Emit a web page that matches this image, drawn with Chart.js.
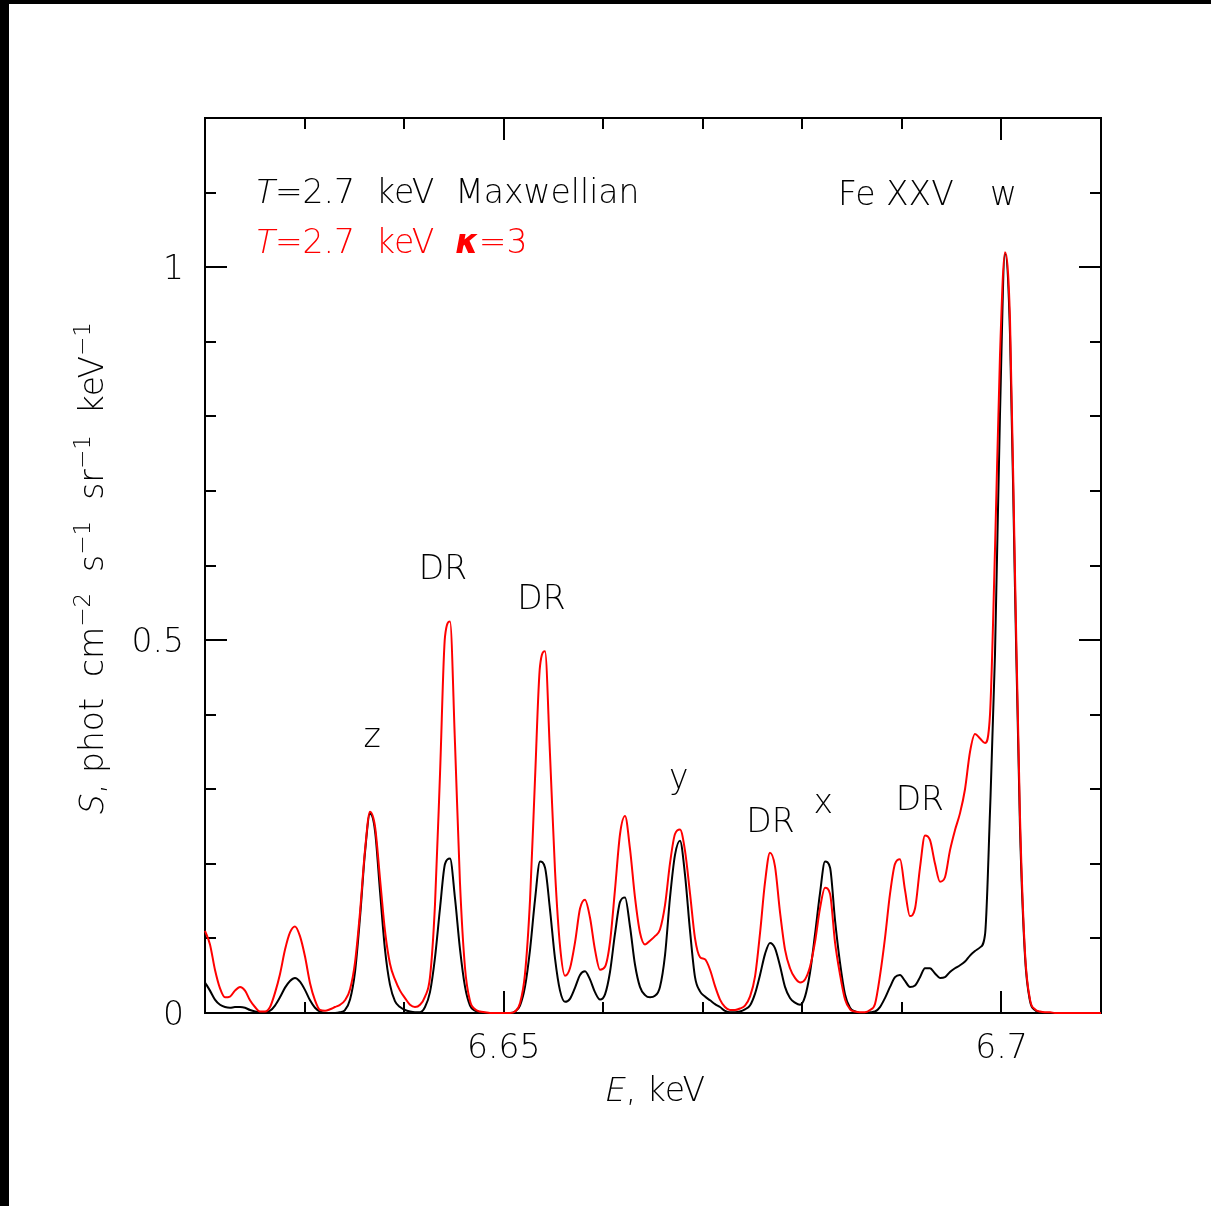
<!DOCTYPE html>
<html>
<head>
<meta charset="utf-8">
<script src="https://cdn.jsdelivr.net/npm/chart.js@4.4.1/dist/chart.umd.min.js"></script>
<style>
  html, body { margin: 0; padding: 0; background: #fff; }
  canvas { display: block; }
</style>
</head>
<body>
<canvas id="spec" width="1211" height="1206"></canvas>
<script>
// Fe XXV K-alpha complex, T = 2.7 keV: Maxwellian vs kappa = 3

const energy = [
  6.62000, 6.62050, 6.62100, 6.62151, 6.62201, 6.62251, 6.62301, 6.62352, 6.62402, 6.62452,
  6.62502, 6.62552, 6.62603, 6.62653, 6.62703, 6.62753, 6.62804, 6.62854, 6.62904, 6.62954,
  6.63004, 6.63055, 6.63105, 6.63155, 6.63206, 6.63256, 6.63306, 6.63356, 6.63406, 6.63457,
  6.63507, 6.63557, 6.63607, 6.63657, 6.63708, 6.63758, 6.63808, 6.63858, 6.63908, 6.63959,
  6.64009, 6.64059, 6.64109, 6.64160, 6.64210, 6.64260, 6.64310, 6.64361, 6.64411, 6.64461,
  6.64511, 6.64561, 6.64612, 6.64662, 6.64712, 6.64762, 6.64812, 6.64863, 6.64913, 6.64963,
  6.65013, 6.65064, 6.65114, 6.65164, 6.65214, 6.65265, 6.65315, 6.65365, 6.65415, 6.65465,
  6.65516, 6.65566, 6.65616, 6.65666, 6.65717, 6.65767, 6.65817, 6.65867, 6.65917, 6.65968,
  6.66018, 6.66068, 6.66118, 6.66169, 6.66219, 6.66269, 6.66319, 6.66369, 6.66420, 6.66470,
  6.66520, 6.66570, 6.66621, 6.66671, 6.66721, 6.66771, 6.66821, 6.66872, 6.66922, 6.66972,
  6.67022, 6.67073, 6.67123, 6.67173, 6.67223, 6.67273, 6.67324, 6.67374, 6.67424, 6.67474,
  6.67525, 6.67575, 6.67625, 6.67675, 6.67725, 6.67776, 6.67826, 6.67876, 6.67926, 6.67977,
  6.68027, 6.68077, 6.68127, 6.68177, 6.68228, 6.68278, 6.68328, 6.68378, 6.68429, 6.68479,
  6.68529, 6.68579, 6.68629, 6.68680, 6.68730, 6.68780, 6.68830, 6.68881, 6.68931, 6.68981,
  6.69031, 6.69081, 6.69132, 6.69182, 6.69232, 6.69282, 6.69333, 6.69383, 6.69433, 6.69483,
  6.69533, 6.69584, 6.69634, 6.69684, 6.69734, 6.69785, 6.69835, 6.69885, 6.69935, 6.69985,
  6.70036, 6.70086, 6.70136, 6.70186, 6.70237, 6.70287, 6.70337, 6.70387, 6.70437, 6.70488,
  6.70538, 6.70588, 6.70638, 6.70689, 6.70739, 6.70789, 6.70839, 6.70889, 6.70940, 6.70990,
  6.71000
];

const maxwellian = [
  0.041, 0.030, 0.018, 0.011, 0.008, 0.007, 0.008, 0.008, 0.007, 0.004,
  0.002, 0.001, 0.001, 0.003, 0.010, 0.021, 0.034, 0.043, 0.047, 0.042,
  0.031, 0.017, 0.007, 0.002, 0.000, 0.000, 0.000, 0.001, 0.004, 0.018,
  0.055, 0.128, 0.215, 0.267, 0.244, 0.163, 0.085, 0.038, 0.016, 0.008,
  0.004, 0.002, 0.001, 0.001, 0.008, 0.028, 0.074, 0.141, 0.200, 0.207,
  0.154, 0.086, 0.035, 0.010, 0.003, 0.001, 0.000, 0.000, 0.000, 0.000,
  0.000, 0.000, 0.002, 0.010, 0.035, 0.085, 0.152, 0.203, 0.195, 0.139,
  0.073, 0.030, 0.015, 0.019, 0.034, 0.051, 0.056, 0.045, 0.028, 0.018,
  0.025, 0.055, 0.106, 0.149, 0.155, 0.116, 0.065, 0.035, 0.024, 0.021,
  0.023, 0.035, 0.078, 0.155, 0.212, 0.231, 0.186, 0.110, 0.048, 0.029,
  0.022, 0.017, 0.012, 0.008, 0.003, 0.001, 0.001, 0.002, 0.005, 0.010,
  0.026, 0.051, 0.079, 0.094, 0.087, 0.063, 0.035, 0.020, 0.014, 0.011,
  0.022, 0.054, 0.105, 0.160, 0.203, 0.195, 0.125, 0.068, 0.025, 0.007,
  0.002, 0.000, 0.000, 0.001, 0.002, 0.008, 0.020, 0.035, 0.048, 0.051,
  0.043, 0.035, 0.037, 0.048, 0.060, 0.060, 0.053, 0.047, 0.048, 0.055,
  0.060, 0.064, 0.069, 0.077, 0.083, 0.088, 0.105, 0.270, 0.480, 0.800,
  1.018, 0.910, 0.570, 0.250, 0.075, 0.016, 0.004, 0.001, 0.000, 0.000,
  0.000, 0.000, 0.000, 0.000, 0.000, 0.000, 0.000, 0.000, 0.000, 0.000,
  0.000
];

const kappa3 = [
  0.110, 0.092, 0.058, 0.033, 0.021, 0.022, 0.030, 0.035, 0.030, 0.017,
  0.008, 0.002, 0.002, 0.008, 0.027, 0.052, 0.085, 0.108, 0.116, 0.103,
  0.076, 0.040, 0.017, 0.004, 0.003, 0.005, 0.008, 0.011, 0.017, 0.032,
  0.068, 0.135, 0.218, 0.270, 0.250, 0.180, 0.110, 0.066, 0.045, 0.030,
  0.020, 0.011, 0.008, 0.011, 0.022, 0.048, 0.145, 0.322, 0.505, 0.525,
  0.362, 0.175, 0.060, 0.016, 0.005, 0.002, 0.001, 0.000, 0.000, 0.000,
  0.000, 0.000, 0.002, 0.013, 0.052, 0.152, 0.314, 0.465, 0.485, 0.348,
  0.190, 0.090, 0.050, 0.060, 0.095, 0.140, 0.152, 0.128, 0.085, 0.058,
  0.062, 0.095, 0.165, 0.240, 0.264, 0.220, 0.155, 0.108, 0.092, 0.097,
  0.103, 0.112, 0.145, 0.201, 0.240, 0.246, 0.218, 0.160, 0.100, 0.075,
  0.072, 0.058, 0.036, 0.018, 0.008, 0.004, 0.004, 0.006, 0.010, 0.022,
  0.049, 0.107, 0.175, 0.215, 0.197, 0.135, 0.085, 0.060, 0.047, 0.041,
  0.045, 0.062, 0.095, 0.140, 0.168, 0.160, 0.095, 0.052, 0.018, 0.005,
  0.002, 0.001, 0.001, 0.004, 0.012, 0.050, 0.100, 0.160, 0.200, 0.206,
  0.165, 0.130, 0.140, 0.195, 0.238, 0.232, 0.200, 0.176, 0.182, 0.218,
  0.245, 0.268, 0.300, 0.350, 0.374, 0.368, 0.362, 0.400, 0.620, 0.880,
  1.020, 0.930, 0.590, 0.265, 0.080, 0.018, 0.005, 0.002, 0.001, 0.001,
  0.000, 0.000, 0.000, 0.000, 0.000, 0.000, 0.000, 0.000, 0.000, 0.000,
  0.000
];

const xMajorTicks = [6.65, 6.7];
const xTickLabels = ['6.65', '6.7'];
const xMinorTicks = [6.63, 6.64, 6.66, 6.67, 6.68, 6.69];
const yMajorTicks = [0, 0.5, 1];
const yTickLabels = ['0', '0.5', '1'];
const yMinorTicks = [0.1, 0.2, 0.3, 0.4, 0.6, 0.7, 0.8, 0.9, 1.1];

// line identifications, anchored in data units (E, S)
const lineNames = ['z', 'DR', 'DR', 'y', 'DR', 'x', 'DR', 'Fe XXV', 'w'];
const lineNameE = [6.6368, 6.6439, 6.6538, 6.6676, 6.6768, 6.6821, 6.6918, 6.6894, 6.7002];
const lineNameS = [0.357, 0.582, 0.542, 0.302, 0.243, 0.268, 0.272, 1.083, 1.083];

const FAM = '"DejaVu Sans", sans-serif';
const F = (size, style) => (style || '200') + ' ' + size + 'px ' + FAM;

// draw a list of [text, font, dy, slant] pieces on one baseline
function drawRuns(ctx, runs, x, y, align) {
  let w = 0;
  runs.forEach(r => { ctx.font = r[1]; w += ctx.measureText(r[0]).width; });
  let cx = align === 'center' ? x - w / 2 : align === 'right' ? x - w : x;
  ctx.textAlign = 'left';
  ctx.textBaseline = 'alphabetic';
  runs.forEach(r => {
    ctx.font = r[1];
    ctx.save();
    ctx.translate(cx, y + (r[2] || 0));
    if (r[3]) ctx.transform(1, 0, -0.21, 1, 0, 0);
    ctx.fillText(r[0], 0, 0);
    ctx.restore();
    cx += ctx.measureText(r[0]).width + (r[3] ? 2 : 0);
  });
}

const framePlugin = {
  id: 'frame',
  beforeDatasetsDraw(chart) {
    const ctx = chart.ctx;
    const { left, right, top, bottom } = chart.chartArea;
    const xs = chart.scales.x, ys = chart.scales.y;
    ctx.save();
    ctx.strokeStyle = '#000';
    ctx.lineWidth = 2;
    ctx.strokeRect(left, top, right - left, bottom - top);
    ctx.beginPath();
    const xt = (v, len) => {
      const px = Math.round(xs.getPixelForValue(v));
      ctx.moveTo(px, bottom); ctx.lineTo(px, bottom - len);
      ctx.moveTo(px, top); ctx.lineTo(px, top + len);
    };
    const yt = (v, len) => {
      const py = Math.round(ys.getPixelForValue(v));
      ctx.moveTo(left, py); ctx.lineTo(left + len, py);
      ctx.moveTo(right, py); ctx.lineTo(right - len, py);
    };
    xMinorTicks.forEach(v => xt(v, 11));
    xMajorTicks.forEach(v => xt(v, 22));
    yMinorTicks.forEach(v => yt(v, 11));
    yMajorTicks.forEach(v => yt(v, 22));
    ctx.stroke();
    ctx.restore();
  },
  afterDraw(chart) {
    const ctx = chart.ctx;
    const { left, right, top, bottom } = chart.chartArea;
    const xs = chart.scales.x, ys = chart.scales.y;
    ctx.save();
    ctx.fillStyle = '#000';

    // tick labels
    yMajorTicks.forEach((v, i) => {
      drawRuns(ctx, [[yTickLabels[i], F(33)]], left - 21, ys.getPixelForValue(v) + 12, 'right');
    });
    xMajorTicks.forEach((v, i) => {
      drawRuns(ctx, [[xTickLabels[i], F(33)]], xs.getPixelForValue(v), bottom + 45, 'center');
    });

    // axis titles
    drawRuns(ctx, [['E', F(33), 0, true], [', keV', F(33)]], (left + right) / 2, bottom + 88, 'center');
    ctx.save();
    ctx.translate(103, (top + bottom) / 2 + 5);
    ctx.rotate(-Math.PI / 2);
    const sup = F(23);
    drawRuns(ctx, [
      ['S', F(33), 0, true], [', phot  cm', F(33)], ['\u22122', sup, -13],
      ['  s', F(33)], ['\u22121', sup, -13],
      ['  sr', F(33)], ['\u22121', sup, -13],
      ['  keV', F(33)], ['\u22121', sup, -13]
    ], 0, 0, 'center');
    ctx.restore();

    // line identifications
    lineNames.forEach((t, i) => {
      drawRuns(ctx, [[t, F(33)]], xs.getPixelForValue(lineNameE[i]), ys.getPixelForValue(lineNameS[i]), 'center');
    });

    // legend text
    const lx = xs.getPixelForValue(6.6248);
    drawRuns(ctx, [['T', F(33), 0, true], ['=2.7  keV  Maxwellian', F(33)]], lx, ys.getPixelForValue(1.0858), 'left');
    ctx.fillStyle = '#ff0000';
    drawRuns(ctx, [['T', F(33), 0, true], ['=2.7  keV  ', F(33)], ['\u03ba', F(33, 'italic bold')], ['=3', F(33)]],
      lx, ys.getPixelForValue(1.0188), 'left');

    // page edge bars
    ctx.fillStyle = '#000';
    ctx.fillRect(0, 0, chart.width, 4);
    ctx.fillRect(0, 0, 9, chart.height);
    ctx.restore();
  }
};

new Chart(document.getElementById('spec'), {
  type: 'line',
  data: {
    datasets: [
      {
        label: 'kappa = 3',
        data: energy.map((e, i) => ({ x: e, y: kappa3[i] })),
        borderColor: '#ff0000',
        borderWidth: 2,
        pointRadius: 0,
        cubicInterpolationMode: 'monotone',
        clip: false
      },
      {
        label: 'Maxwellian',
        data: energy.map((e, i) => ({ x: e, y: maxwellian[i] })),
        borderColor: '#000000',
        borderWidth: 2,
        pointRadius: 0,
        cubicInterpolationMode: 'monotone',
        clip: false
      }
    ]
  },
  options: {
    responsive: false,
    animation: false,
    devicePixelRatio: 1,
    layout: { padding: { left: 205, right: 110, top: 118, bottom: 193 } },
    scales: {
      x: { type: 'linear', min: 6.62, max: 6.71, display: false },
      y: { type: 'linear', min: 0, max: 1.2, display: false }
    },
    plugins: { legend: { display: false }, tooltip: { enabled: false } }
  },
  plugins: [framePlugin]
});
</script>
</body>
</html>
